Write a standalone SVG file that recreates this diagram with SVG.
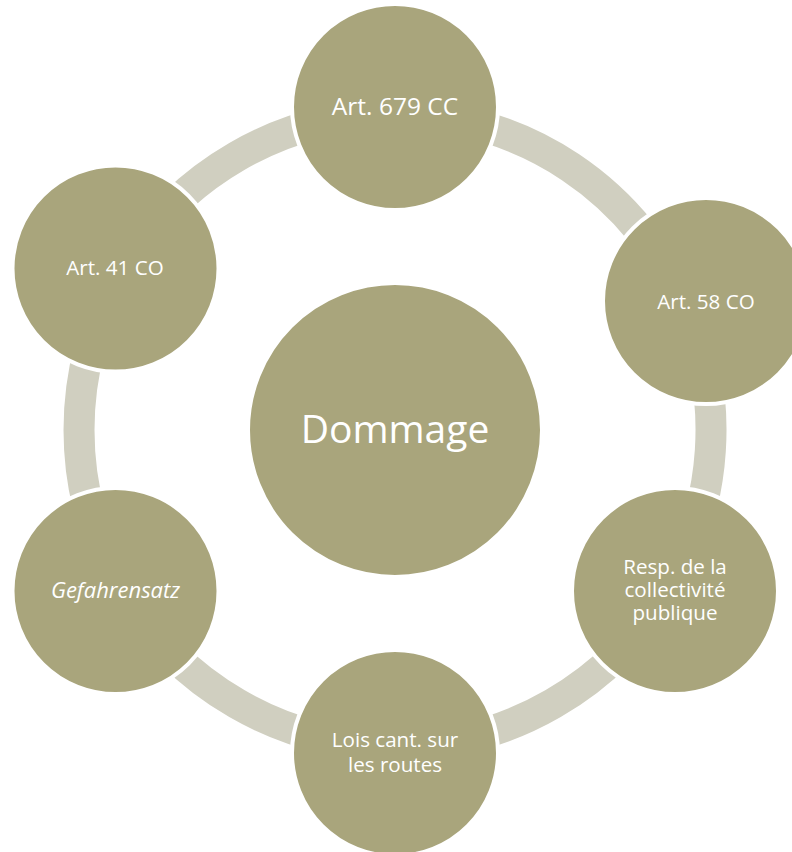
<svg xmlns="http://www.w3.org/2000/svg" width="792" height="852" viewBox="0 0 792 852">
  <style>
    .arc { fill: none; stroke: #D0CFC0; stroke-width: 31; stroke-linecap: butt; }
    .node { fill: #A9A57C; stroke: #FFFFFF; stroke-width: 4; }
    .center { fill: #A9A57C; stroke: #FFFFFF; stroke-width: 4; }
    .lbl { fill: #FFFFFF; font-family: "Open Sans", "DejaVu Sans", sans-serif; font-size: 20.6px; text-anchor: middle; }
  </style>
  <rect x="0" y="0" width="792" height="852" fill="#FFFFFF"/>
  <g id="connectors">
    <path class="arc" d="M 395 114 A 316 316 0 0 1 686.95 309.07"/>
    <path class="arc" d="M 686.95 309.07 A 316 316 0 0 1 668.66 588"/>
    <path class="arc" d="M 668.66 588 A 316 316 0 0 1 395 746"/>
    <path class="arc" d="M 395 746 A 316 316 0 0 1 121.34 588"/>
    <path class="arc" d="M 121.34 588 A 316 316 0 0 1 121.34 272"/>
    <path class="arc" d="M 121.34 272 A 316 316 0 0 1 395 114"/>
  </g>
  <g id="node-dommage">
    <circle class="center" cx="395" cy="430" r="147"/>
    <text class="lbl" x="395" y="443" style="font-size:39px">Dommage</text>
  </g>
  <g id="node-art679">
    <circle class="node" cx="395" cy="107" r="103"/>
    <text class="lbl" x="395" y="115" style="font-size:24.5px">Art. 679 CC</text>
  </g>
  <g id="node-art58">
    <circle class="node" cx="706" cy="301" r="103"/>
    <text class="lbl" x="706" y="308.5">Art. 58 CO</text>
  </g>
  <g id="node-resp">
    <circle class="node" cx="675" cy="591" r="103"/>
    <text class="lbl" x="675" y="574">Resp. de la</text>
    <text class="lbl" x="675" y="597">collectivité</text>
    <text class="lbl" x="675" y="620">publique</text>
  </g>
  <g id="node-lois">
    <circle class="node" cx="395" cy="753" r="103"/>
    <text class="lbl" x="395" y="747">Lois cant. sur</text>
    <text class="lbl" x="395" y="772">les routes</text>
  </g>
  <g id="node-gefahrensatz">
    <circle class="node" cx="115.5" cy="591" r="103"/>
    <text class="lbl" x="115.5" y="598" style="font-style:italic;font-size:22px">Gefahrensatz</text>
  </g>
  <g id="node-art41">
    <circle class="node" cx="115.5" cy="268.5" r="103"/>
    <text class="lbl" x="115" y="275">Art. 41 CO</text>
  </g>
</svg>
